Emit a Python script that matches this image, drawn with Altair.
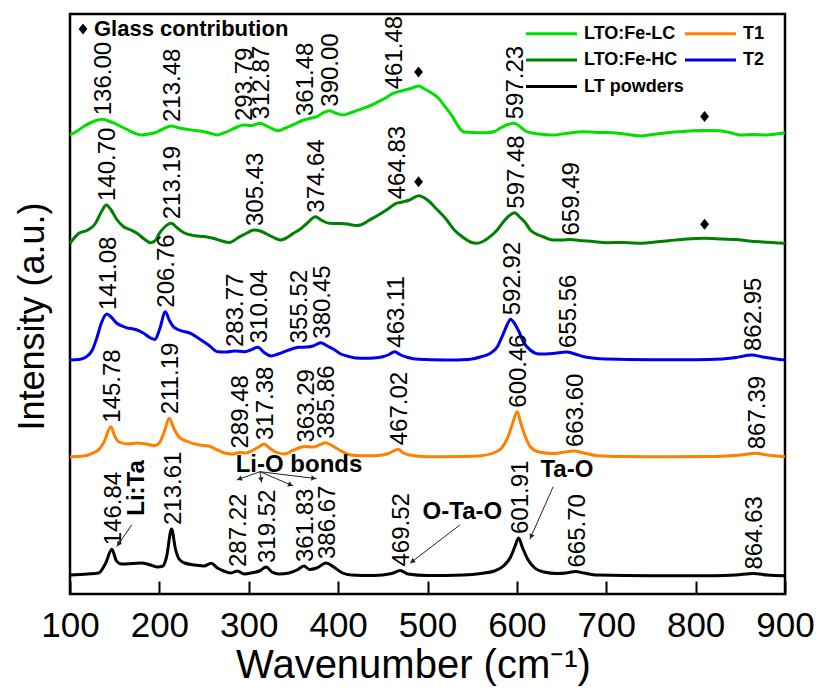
import math
import altair as alt
import pandas as pd

FONT = "Liberation Sans"
W, H = 715, 580
X_MIN, X_MAX = 100, 900
Y_MIN, Y_MAX = 0, 580

# Legend is filled column by column: LC, HC, LT in the first column, T1, T2 in the second
SERIES = ["LTO:Fe-LC", "LTO:Fe-HC", "LT powders", "T1", "T2"]
COLORS = ["#00e000", "#008000", "#000000", "#ff8000", "#0000ee"]

# ---- Raman spectra, vertically stacked (wavenumber cm-1, intensity a.u.) ----
lc_w = [100, 108, 115, 125, 136.00, 143, 150, 158, 165, 172, 180, 188, 195, 203, 213.48,
        222, 230, 240, 250, 258, 265, 272, 280, 287, 293.79, 303, 312.87, 320, 327, 333,
        340, 345, 353, 361.48, 368, 376, 383, 390.00, 397, 405, 415, 425, 435, 445, 453,
        461.48, 468, 475, 483, 490, 497, 505, 512, 520, 528, 535, 540, 550, 566, 575, 581,
        590, 597.23, 604, 611, 625, 640, 655, 674, 690, 707, 720, 738, 752, 768, 785, 797,
        810, 827, 840, 850, 865, 880, 890, 900]
lc_i = [459, 463, 467.3, 472, 474.7, 473, 470.7, 467, 464, 461, 459, 460, 461.3, 464.5, 468,
        466, 464.7, 463.5, 462.3, 460.5, 459, 461, 464, 467, 469, 468.5, 470.7, 468, 465, 463.3,
        465.5, 467.3, 470.5, 474, 475.5, 477.3, 481, 483.3, 481, 479, 481.5, 484.7, 488, 492.3, 496,
        500.7, 502.5, 504, 506, 508, 505, 500.7, 496, 487, 477.3, 467, 462.3, 461.5, 461.3, 462.5, 465.7,
        469.5, 470.7, 467, 462.3, 460, 459, 460.5, 462.3, 461.5, 461.3, 460, 458, 459.5, 461.3, 462.5, 463.3,
        463.5, 463.3, 461, 459, 459.5, 459, 460, 461.3]

hc_w = [100, 110, 120, 128, 135, 140.70, 146, 152, 160, 168, 175, 183, 190, 195, 200, 206,
        213.19, 220, 228, 240, 250, 260, 270, 278, 290, 298, 305.43, 313, 320, 328, 335, 343,
        350, 357, 365, 374.64, 382, 390, 400, 410, 420, 425, 435, 445, 455, 464.83, 472, 480,
        490, 500, 510, 520, 530, 540, 548, 555, 562, 570, 578, 585, 591, 597.48, 603, 610,
        615, 620, 630, 640, 650, 659.49, 670, 685, 700, 720, 740, 755, 770, 790, 810, 830,
        845, 860, 875, 900]
hc_i = [350.7, 360.7, 364, 370, 382, 389, 384, 375, 367.3, 364, 360.7, 355, 351.3, 353, 360.7, 367,
        370.7, 366, 361, 358.3, 357.5, 355.7, 353, 351.5, 357.3, 361, 364, 363, 360, 356.5, 354, 356.5,
        360.7, 364.5, 370.5, 377.3, 373.5, 370.7, 370.5, 370, 368.5, 369, 374, 379, 384.5, 390.7, 392, 394,
        398.3, 394, 385, 375.7, 364, 356.5, 352, 350.7, 352.5, 357.3, 364, 372.3, 378, 381.3, 377, 370.7,
        364, 360.7, 357, 354, 354, 354.5, 353.5, 352.5, 351.3, 351.5, 350.7, 352, 353.3, 355, 355.7, 355,
        354.5, 353, 352, 350.7]

t2_w = [100, 110, 118, 125, 130, 135, 141.08, 146, 152, 162, 175, 182, 190, 195, 200, 206.76,
        211, 215, 222, 235, 245, 255, 265, 275, 283.77, 295, 302, 310.04, 318, 325, 333, 340,
        348, 355.52, 365, 372, 380.45, 388, 395, 403, 410, 420, 430, 440, 450, 457, 463.11,
        470, 478, 490, 520, 545, 560, 570, 578, 585, 589, 592.92, 597, 602, 608, 615, 625,
        640, 655.56, 665, 675, 700, 750, 800, 830, 845, 862.95, 875, 890, 900]
t2_i = [234, 234.5, 237, 244, 256, 270.7, 280, 277, 271, 266.7, 264, 261, 256, 254.5, 264, 282.3,
        274, 268, 264, 260.7, 255, 249, 242.3, 242, 243, 242.3, 244, 246.7, 241, 238, 240, 242.3,
        245, 246.7, 247, 248, 251.3, 248, 244.7, 240, 238, 236, 235.7, 236, 237.3, 239.5, 242.3,
        239, 236.5, 234.7, 234, 234.5, 237.3, 240.5, 247, 260.7, 269, 274.7, 271, 263, 251, 244, 240,
        240.5, 242, 240, 237.3, 235, 234.3, 234.3, 235, 236.5, 239, 237, 235, 234]

t1_w = [100, 115, 125, 133, 138, 145.78, 150, 155, 165, 175, 185, 195, 200, 205, 211.19,
        216, 222, 230, 245, 255, 265, 275, 283, 289.48, 297, 305, 311, 317.38, 323, 330, 340,
        350, 357, 363.29, 372, 380, 385.86, 392, 400, 410, 420, 440, 455, 461, 467.02, 473,
        480, 500, 540, 560, 575, 583, 590, 595, 600.46, 604, 608, 615, 625, 640, 650, 663.60,
        675, 690, 720, 760, 820, 850, 867.39, 880, 900]
t1_i = [137.3, 138, 140.7, 145, 152, 167.3, 158, 152, 150, 151, 150, 148.5, 151, 161, 175.7,
        166, 157, 153, 149, 148, 144, 140.5, 140, 141.5, 141, 144, 147, 150, 146, 142, 140,
        144, 146.5, 147.5, 147, 149.5, 151.3, 149, 144.7, 140, 138.5, 138.3, 140, 142.5, 144.7, 141,
        139, 137.3, 137.5, 138.3, 141.5, 146, 157, 170, 182.3, 172, 161, 147.3, 142, 140.5, 141.5, 143,
        141, 138.3, 137.5, 137.3, 137.5, 139, 140.7, 139, 137.3]

lt_w = [100, 120, 132, 140, 146.84, 152, 158, 170, 180, 190, 198, 204, 208, 213.61, 218,
        222, 228, 240, 250, 258, 265, 272, 280, 287.22, 295, 305, 312, 319.52, 326, 334, 345,
        354, 361.83, 368, 376, 386.67, 395, 405, 415, 440, 460, 469.52, 478, 500, 540, 560,
        575, 585, 593, 598, 601.91, 606, 612, 620, 630, 645, 655, 665.70, 675, 690, 750, 820,
        845, 864.63, 880, 900]
lt_i = [19, 20, 21, 31, 44.7, 33, 30, 30.5, 31, 29, 27, 28, 37, 65, 45,
        35, 31, 29, 28, 30.7, 26, 23, 21, 23, 20, 21.5, 23, 27, 22, 20, 21,
        24, 28, 24.5, 26, 31, 27, 21, 19, 18.5, 20.5, 23.5, 20, 18.5, 19, 20.5,
        23, 28, 37, 48, 56, 47, 35, 26, 22, 20.5, 21, 22.5, 21, 19, 18.3, 18.3,
        19, 20.5, 19, 18.3]

# ---- Assigned Raman bands (cm-1) ----
lc_peaks = [136.00, 213.48, 293.79, 312.87, 361.48, 390.00, 461.48, 597.23]
hc_peaks = [140.70, 213.19, 305.43, 374.64, 464.83, 597.48, 659.49]
t2_peaks = [141.08, 206.76, 283.77, 310.04, 355.52, 380.45, 463.11, 592.92, 655.56, 862.95]
t1_peaks = [145.78, 211.19, 289.48, 317.38, 363.29, 385.86, 467.02, 600.46, 663.60, 867.39]
lt_peaks = [146.84, 213.61, 287.22, 319.52, 361.83, 386.67, 469.52, 601.91, 665.70, 864.63]

# Glass contribution humps on the Fe-doped samples
glass_w = [490, 810]

# Band assignments with arrows
note_text = ["Li-O bonds", "O-Ta-O", "Ta-O"]
note_w = [356.2, 539.0, 656.0]
note_i = [129.0, 82.3, 124.0]
rot_note_text = ["Li:Ta"]
rot_note_w = [174.6]
rot_note_i = [106.0]
arrow_w1 = [169.0, 312.5, 312.5, 312.5, 312.5, 536.2, 640.6]
arrow_i1 = [69.0, 122.3, 122.3, 122.3, 122.3, 69.0, 107.3]
arrow_w2 = [152.2, 286.5, 314.4, 349.8, 376.0, 480.3, 614.5]
arrow_i2 = [47.3, 114.0, 111.3, 108.0, 115.3, 30.7, 54.7]

spectra = {
    "LTO:Fe-LC": (lc_w, lc_i, lc_peaks),
    "LTO:Fe-HC": (hc_w, hc_i, hc_peaks),
    "T2": (t2_w, t2_i, t2_peaks),
    "T1": (t1_w, t1_i, t1_peaks),
    "LT powders": (lt_w, lt_i, lt_peaks),
}

rows, peak_rows, glass_rows = [], [], []
for name, (ws, ins, peaks) in spectra.items():
    lookup = dict(zip(ws, ins))
    for k, (w, v) in enumerate(zip(ws, ins)):
        rows.append({"series": name, "w": w, "i": v, "order": k})
    for p in peaks:
        peak_rows.append({"series": name, "w": p, "i": lookup[p]})
    if name in ("LTO:Fe-LC", "LTO:Fe-HC"):
        for g in glass_w:
            glass_rows.append({"kind": "Glass contribution", "w": g, "i": lookup[g]})

df = pd.DataFrame(rows)
peaks_df = pd.DataFrame(peak_rows)
glass_df = pd.DataFrame(glass_rows)

# Arrow heads: triangles rotated along each arrow, set back slightly from the tip
XS = W / (X_MAX - X_MIN)
YS = H / (Y_MAX - Y_MIN)
arrow_rows, head_rows = [], []
for x1, y1, x2, y2 in zip(arrow_w1, arrow_i1, arrow_w2, arrow_i2):
    arrow_rows.append({"x1": x1, "y1": y1, "x2": x2, "y2": y2})
    dxp, dyp = (x2 - x1) * XS, -(y2 - y1) * YS
    L = math.hypot(dxp, dyp)
    ux, uy = dxp / L, dyp / L
    head_rows.append({
        "x": x2 - 3 * ux / XS,
        "y": y2 + 3 * uy / YS,
        "angle": math.degrees(math.atan2(ux, -uy)) % 360,
    })
arrows_df = pd.DataFrame(arrow_rows)
heads_df = pd.DataFrame(head_rows)
notes_df = pd.DataFrame({"t": note_text, "w": note_w, "i": note_i})
rot_notes_df = pd.DataFrame({"t": rot_note_text, "w": rot_note_w, "i": rot_note_i})

x_scale = alt.Scale(domain=[X_MIN, X_MAX], nice=False, zero=False)
y_scale = alt.Scale(domain=[Y_MIN, Y_MAX], nice=False, zero=False)

x_axis = alt.Axis(
    values=list(range(100, 901, 100)), format="d",
    tickSize=13, tickWidth=2, tickColor="black", offset=-13,
    domain=False, grid=False,
    labelFont=FONT, labelFontSize=35, labelColor="black", labelPadding=14,
    labelFlush=False, labelOverlap=False,
    title="Wavenumber (cm⁻¹)", titleFont=FONT, titleFontSize=40,
    titleFontWeight="normal", titleColor="black",
    titleX=343, titleY=96, titleAlign="center", titleBaseline="alphabetic",
)
y_axis = alt.Axis(
    labels=False, ticks=False, domain=False, grid=False,
    title="Intensity (a.u.)", titleFont=FONT, titleFontSize=36,
    titleFontWeight="normal", titleColor="black",
    titleX=-27, titleY=302, titleAngle=270, titleAlign="center",
    titleBaseline="alphabetic",
)

X = alt.X("w:Q", scale=x_scale, axis=x_axis)
Y = alt.Y("i:Q", scale=y_scale, axis=y_axis)

# Legend swatch: a horizontal stroke twice the nominal symbol width
swatch = "M-2,0H2"
lines = alt.Chart(df).mark_line(strokeWidth=3, interpolate="monotone").encode(
    x=X, y=Y,
    color=alt.Color(
        "series:N",
        scale=alt.Scale(domain=SERIES, range=COLORS),
        legend=alt.Legend(
            title=None, orient="none", legendX=467, legendY=5, columns=2,
            symbolType=swatch, symbolSize=650, symbolStrokeWidth=3,
            labelFont=FONT, labelFontSize=18, labelFontWeight="bold",
            labelColor="black", labelOffset=18, labelLimit=300,
            columnPadding=-5, rowPadding=2.5, padding=0,
        ),
    ),
    detail="series:N",
    order="order:Q",
)

peak_labels = alt.Chart(peaks_df).mark_text(
    angle=270, align="left", baseline="middle", dx=4, dy=2,
    font=FONT, fontSize=24, color="black",
).encode(
    x=alt.X("w:Q", scale=x_scale),
    y=alt.Y("i:Q", scale=y_scale),
    text=alt.Text("w:Q", format=".2f"),
)

diamond = "M-0.8,0L0,-1L0.8,0L0,1Z"
glass = alt.Chart(glass_df).mark_point(
    filled=True, color="black", size=121, opacity=1, yOffset=-14,
).encode(
    x=alt.X("w:Q", scale=x_scale),
    y=alt.Y("i:Q", scale=y_scale),
    shape=alt.Shape(
        "kind:N",
        scale=alt.Scale(domain=["Glass contribution"], range=[diamond]),
        legend=alt.Legend(
            title=None, orient="none", legendX=2, legendY=4,
            symbolSize=121, symbolFillColor="black", symbolStrokeColor="black",
            labelFont=FONT, labelFontSize=22, labelFontWeight="bold",
            labelColor="black", labelOffset=0, labelLimit=400, padding=0,
        ),
    ),
)

arrows = alt.Chart(arrows_df).mark_rule(color="#222222", strokeWidth=1).encode(
    x=alt.X("x1:Q", scale=x_scale), y=alt.Y("y1:Q", scale=y_scale),
    x2="x2:Q", y2="y2:Q",
)
heads = alt.Chart(heads_df).mark_point(
    shape="triangle-up", filled=True, color="#222222", size=30, opacity=1,
).encode(
    x=alt.X("x:Q", scale=x_scale), y=alt.Y("y:Q", scale=y_scale),
    angle=alt.Angle("angle:Q", scale=None),
)

notes = alt.Chart(notes_df).mark_text(
    align="center", baseline="middle", font=FONT, fontSize=24,
    fontWeight="bold", color="black",
).encode(
    x=alt.X("w:Q", scale=x_scale), y=alt.Y("i:Q", scale=y_scale), text="t:N",
)
rot_notes = alt.Chart(rot_notes_df).mark_text(
    angle=270, align="center", baseline="middle", font=FONT, fontSize=24,
    fontWeight="bold", color="black",
).encode(
    x=alt.X("w:Q", scale=x_scale), y=alt.Y("i:Q", scale=y_scale), text="t:N",
)

chart = alt.layer(
    lines, peak_labels, glass, arrows, heads, notes, rot_notes
).resolve_scale(
    color="independent", shape="independent"
).properties(
    width=W, height=H,
    autosize=alt.AutoSizeParams(type="none"),
    padding={"left": 70, "top": 14, "right": 34, "bottom": 97},
    background="white",
).configure_view(
    stroke="black", strokeWidth=2.5,
)

chart.save("out.html", embed_options={"renderer": "svg", "actions": False})
